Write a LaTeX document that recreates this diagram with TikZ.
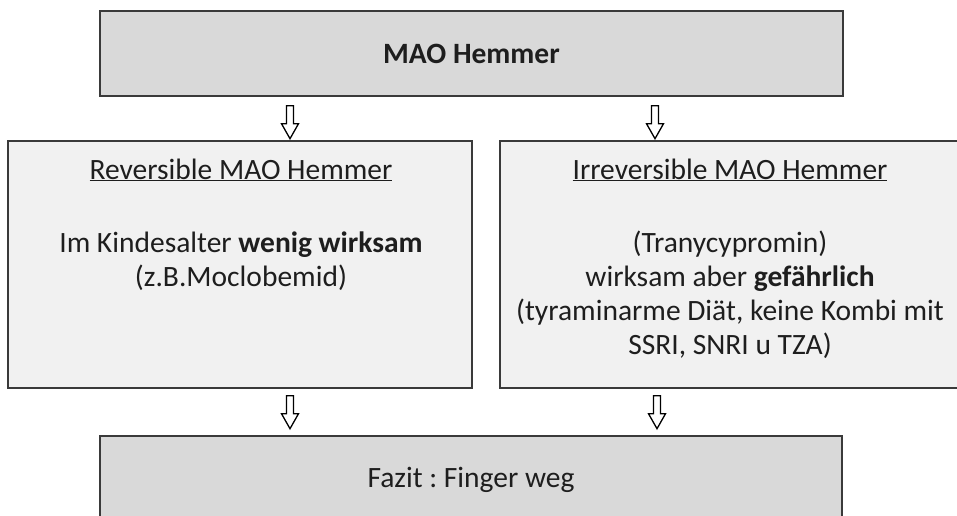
\documentclass[tikz,border=0pt]{standalone}
\usepackage{fontspec}
\setmainfont{Carlito}
\usetikzlibrary{calc}
\definecolor{darkfill}{HTML}{D9D9D9}
\definecolor{lightfill}{HTML}{F1F1F1}
\definecolor{edge}{HTML}{3A3A3A}
\definecolor{txt}{HTML}{1E1E1E}
\frenchspacing
\tikzset{
  box/.style={draw=edge, line width=1.4pt, rectangle, inner sep=0pt},
  darkbox/.style={box, fill=darkfill},
  lightbox/.style={box, fill=lightfill},
  txtline/.style={anchor=base, inner sep=0pt, text=txt, font=\fontsize{29.5}{34}\selectfont},
  downarrow/.pic={
    \draw[draw=black, line width=1.3pt, fill=white, line join=miter]
      (-3.5,0) -- (3.5,0) -- (3.5,18) -- (8.5,18) -- (0,33) -- (-8.5,18) -- (-3.5,18) -- cycle;
  }
}
\begin{document}
\begin{tikzpicture}[x=1pt, y=-1pt]
\clip (0,0) rectangle (957,515);
\fill[white] (0,0) rectangle (957,515);

% boxes
\node[darkbox, minimum width=743pt, minimum height=85pt] (top) at (471.5,53.5) {};
\node[lightbox, minimum width=464pt, minimum height=247pt] (left) at (240,264.5) {};
\node[lightbox, minimum width=462pt, minimum height=247pt] (right) at (731,264.5) {};
\node[darkbox, minimum width=742pt, minimum height=86pt] (bottom) at (471,479) {};

% texts
\node[txtline] (ttop) at (471.5,63) {\textbf{MAO Hemmer}};

\node[txtline] (lh) at (241,179) {\underline{Reversible MAO Hemmer}};
\node[txtline] (l1) at (241,252) {Im Kindesalter \textbf{wenig wirksam}};
\node[txtline] (l2) at (241,286) {(z.B.Moclobemid)};

\node[txtline] (rh) at (730,179) {\underline{Irreversible MAO Hemmer}};
\node[txtline] (r1) at (730,252) {(Tranycypromin)};
\node[txtline] (r2) at (730,286) {wirksam aber \textbf{gefährlich}};
\node[txtline] (r3) at (730,320) {(tyraminarme Diät, keine Kombi mit};
\node[txtline] (r4) at (730,354) {SSRI, SNRI u TZA)};

\node[txtline] (tbot) at (471,487) {Fazit : Finger weg};

% arrows between boxes
\coordinate (a1) at ($(top.south -| 290,0)+(0,9)$);
\coordinate (a2) at ($(top.south -| 655,0)+(0,9)$);
\coordinate (a3) at ($(left.south -| 290,0)+(0,7)$);
\coordinate (a4) at ($(right.south -| 657,0)+(0,7)$);
\pic at (a1) {downarrow};
\pic at (a2) {downarrow};
\pic at (a3) {downarrow};
\pic at (a4) {downarrow};
\end{tikzpicture}
\end{document}
